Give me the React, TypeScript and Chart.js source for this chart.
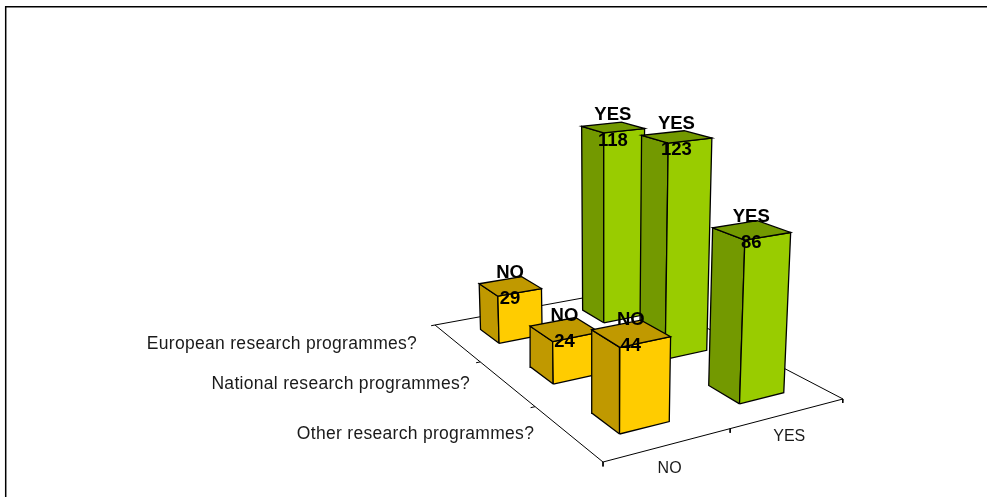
import React, { useEffect, useRef } from "react";
import { Chart, registerables } from "chart.js";

Chart.register(...registerables);

const columnLabels = ["NO", "YES"];
const rowLabels = ["Other research programmes?", "National research programmes?", "European research programmes?"];
const noValues = [44, 24, 29];
const yesValues = [86, 123, 118];

const FONT = "'Liberation Sans', Arial, sans-serif";
const INK = "#000000";
const faceColors = [
  { front: "#FFCC00", side: "#C09900" },
  { front: "#99CC00", side: "#739900" },
];
const BAR_HALF_U = 0.1;
const BAR_HALF_V = 0.065;

// Perspective camera: floor (u across columns, v into depth, 0..1) plus height z in value units
function project(u: number, v: number, z: number) {
  const w = 0.12885 * u + 0.35628 * v + 1 - 0.000495 * z;
  return {
    x: (348.6 * u - 13 * v + 603 - 0.2995 * z) / w,
    y: (-11.6 * u - 21.2 * v + 462 - 2.25 * z) / w,
  };
}

function colU(c: number) { return (c + 0.5) / columnLabels.length; }
function rowV(r: number) { return (r + 0.5) / rowLabels.length; }

function polygon(points: number[][], fillColor: string | null, width = 1.3) {
  const data = points.map(([u, v, z]) => project(u, v, z));
  return {
    data,
    showLine: true,
    fill: fillColor ? "shape" : false,
    backgroundColor: fillColor ?? "transparent",
    borderColor: INK,
    borderWidth: width,
    borderJoinStyle: "miter",
    pointRadius: 0,
    tension: 0,
  };
}

function buildDatasets() {
  const list: any[] = [];
  list.push(polygon([[0, 0, 0], [1, 0, 0], [1, 1, 0], [0, 1, 0], [0, 0, 0]], "#FFFFFF", 1));
  for (let r = 1; r < rowLabels.length; r++) {
    const v = r / rowLabels.length;
    list.push(polygon([[0, v, 0], [-0.018, v, 0]], null, 1));
  }
  list.push(polygon([[0, 1, 0], [-0.018, 1, 0]], null, 1));
  for (let c = 0; c <= columnLabels.length; c++) {
    const u = c / columnLabels.length;
    list.push(polygon([[u, 0, 0], [u, 0, -2.2]], null, 1));
  }
  for (let r = rowLabels.length - 1; r >= 0; r--) {
    [noValues, yesValues].forEach((series, c) => {
      const z = series[r];
      const u0 = colU(c) - BAR_HALF_U;
      const u1 = colU(c) + BAR_HALF_U;
      const v0 = rowV(r) - BAR_HALF_V;
      const v1 = rowV(r) + BAR_HALF_V;
      const col = faceColors[c];
      list.push(polygon([[u0, v0, 0], [u0, v1, 0], [u0, v1, z], [u0, v0, z], [u0, v0, 0]], col.side));
      list.push(polygon([[u0, v0, 0], [u1, v0, 0], [u1, v0, z], [u0, v0, z], [u0, v0, 0]], col.front));
      list.push(polygon([[u0, v0, z], [u1, v0, z], [u1, v1, z], [u0, v1, z], [u0, v0, z]], col.side));
    });
  }
  return list.reverse();
}

const textPlugin = {
  id: "sceneText",
  afterDatasetsDraw(chart: any) {
    const { ctx, scales } = chart;
    const px = (p: { x: number; y: number }) => ({
      x: scales.x.getPixelForValue(p.x),
      y: scales.y.getPixelForValue(p.y),
    });
    ctx.save();
    // frame
    ctx.strokeStyle = "#000000";
    ctx.lineWidth = 1.5;
    ctx.beginPath();
    ctx.moveTo(scales.x.getPixelForValue(5.7), scales.y.getPixelForValue(497));
    ctx.lineTo(scales.x.getPixelForValue(5.7), scales.y.getPixelForValue(6.7));
    ctx.lineTo(scales.x.getPixelForValue(987), scales.y.getPixelForValue(6.7));
    ctx.stroke();

    ctx.fillStyle = "#1a1a1a";
    ctx.textBaseline = "middle";
    ctx.font = `17.5px ${FONT}`;
    ctx.letterSpacing = "0.3px";
    ctx.textAlign = "right";
    rowLabels.forEach((label, r) => {
      const v = rowV(r);
      const p = px(project(-0.005, v, 0));
      ctx.fillText(label, p.x - (30 + 10 * v), p.y + 1);
    });
    ctx.letterSpacing = "0px";
    ctx.font = `16px ${FONT}`;
    ctx.textAlign = "center";
    columnLabels.forEach((label, c) => {
      const p = px(project(colU(c), 0, 0));
      ctx.fillText(label, p.x + 1, p.y + 23.5);
    });

    ctx.fillStyle = "#000000";
    ctx.font = `bold 18.5px ${FONT}`;
    [noValues, yesValues].forEach((series, c) => {
      series.forEach((z, r) => {
        const p = px(project(colU(c), rowV(r), z));
        ctx.fillText(columnLabels[c], p.x, p.y - 13);
        ctx.fillText(String(z), p.x, p.y + 13);
      });
    });
    ctx.restore();
  },
};

export default function App() {
  const ref = useRef<HTMLCanvasElement>(null);
  useEffect(() => {
    const chart = new Chart(ref.current!, {
      type: "scatter",
      data: { datasets: buildDatasets() },
      options: {
        animation: false,
        responsive: false,
        layout: { padding: 0 },
        plugins: { legend: { display: false }, tooltip: { enabled: false } },
        scales: {
          x: { type: "linear", min: 0, max: 987, display: false },
          y: { type: "linear", min: 0, max: 497, reverse: true, display: false },
        },
      },
      plugins: [textPlugin],
    } as any);
    return () => chart.destroy();
  }, []);
  return (
    <div style={{ position: "fixed", left: 0, top: 0, width: 987, height: 497, background: "#fff" }}>
      <canvas ref={ref} width={987} height={497} style={{ display: "block" }} />
    </div>
  );
}
